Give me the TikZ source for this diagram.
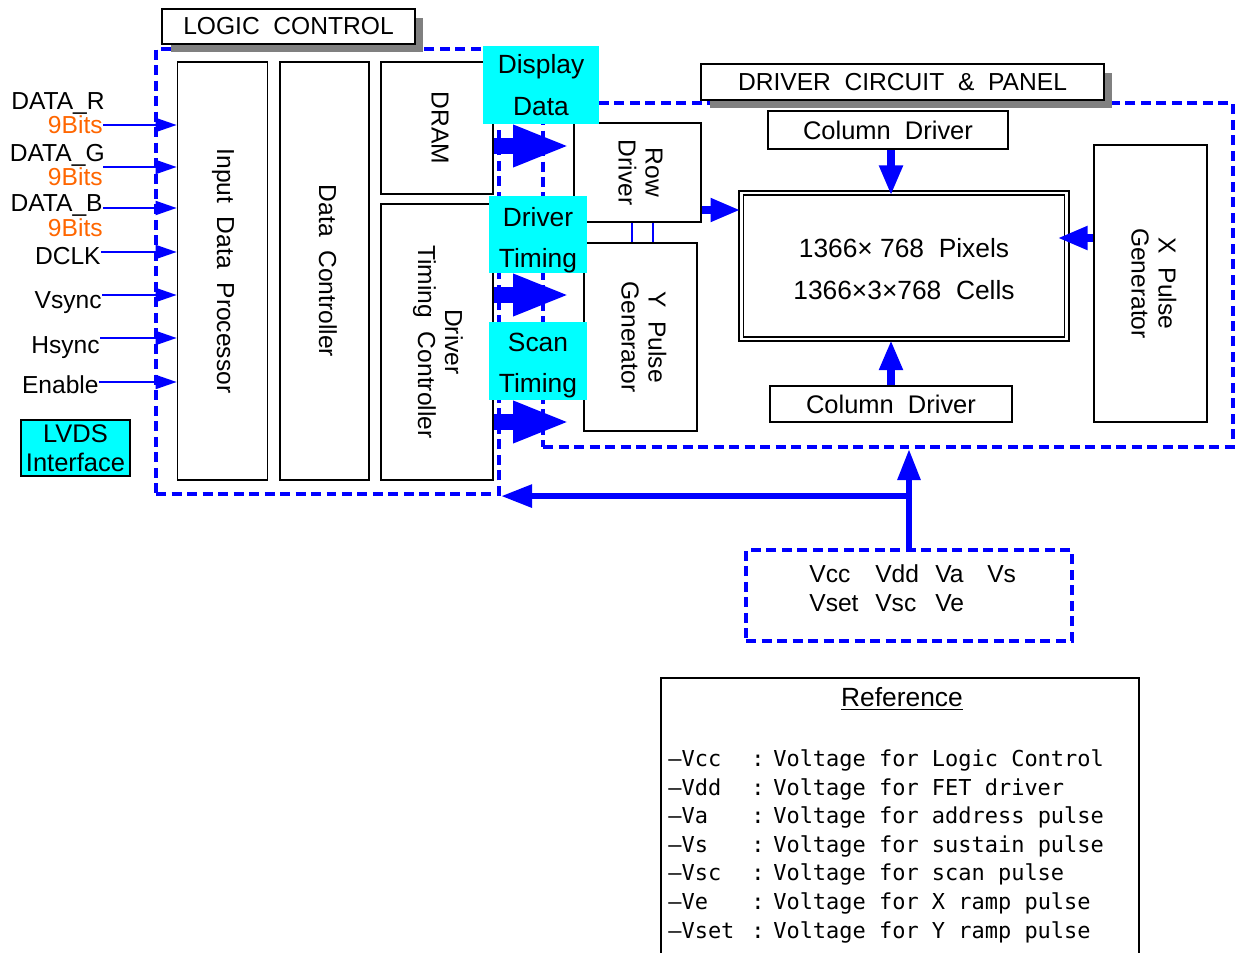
\documentclass[tikz,border=0pt]{standalone}
\usepackage{fontspec}
\setmainfont{Liberation Sans}
\newfontfamily\refmono{DejaVu Sans Mono}
\usetikzlibrary{arrows.meta,shadows}
\definecolor{cyanbox}{RGB}{0,255,255}
\definecolor{bitorange}{RGB}{255,102,0}
\definecolor{shadowgray}{RGB}{128,128,128}
\newcommand{\setfs}[2]{\fontsize{#1}{#2}\selectfont}
\newcommand{\vtxt}[1]{\rotatebox{-90}{\begin{tabular}{@{}c@{}}#1\end{tabular}}}
\newcommand{\lowtxt}[2]{\raisebox{-#1}[0pt][0pt]{\begin{tabular}{@{}c@{}}#2\end{tabular}}}

\begin{document}
\begin{tikzpicture}[x=0.02cm, y=-0.02cm,
  box/.style={draw, line width=1pt, fill=white, inner sep=0pt, font=\setfs{14}{15.3}},
  dashbox/.style={draw=blue, line width=0.085cm, dash pattern=on 0.2cm off 0.11cm, inner sep=0pt},
  cyanlbl/.style={fill=cyanbox, inner sep=0pt, align=center, font=\setfs{15}{23.8}},
  titlebox/.style={draw, line width=1pt, fill=white, inner sep=0pt, font=\setfs{14}{16},
    drop shadow={shadow xshift=0.17cm, shadow yshift=-0.17cm, fill=shadowgray, opacity=1}},
  sig/.style={anchor=east, inner sep=0pt, text height=0.75em, text depth=0.25em, font=\setfs{14}{16}},
  sigarrow/.style={blue, line width=1.1pt, -{Triangle[length=0.42cm, width=0.28cm]}},
  bigarrow/.style={blue, line width=0.33cm, -{Triangle[length=1.14cm, width=0.76cm]}},
  midarrow/.style={blue, line width=0.16cm, -{Triangle[length=0.6cm, width=0.44cm]}},
  busarrow/.style={blue, line width=0.12cm, -{Triangle[length=0.62cm, width=0.44cm]}}
]
\useasboundingbox (0,0) rectangle (1235,953);

% Dashed regions
\node[dashbox, minimum width=6.86cm, minimum height=8.9cm] (logic) at (327.5,271.5) {};
\node[dashbox, minimum width=13.8cm, minimum height=6.88cm] (panelbox) at (888,275) {};
\node[dashbox, minimum width=6.52cm, minimum height=1.82cm] (volt) at (909,595.5) {};

% Titles
\node[titlebox, minimum width=5.06cm, minimum height=0.7cm] (lctitle) at (288.5,26.5) {LOGIC\ \ CONTROL};
\node[titlebox, minimum width=8.06cm, minimum height=0.72cm] (dctitle) at (902.5,82) {DRIVER\ \ CIRCUIT\ \ \&\ \ PANEL};

% Logic control blocks
\node[box, minimum width=1.8cm, minimum height=8.36cm] (idp) at (222.5,271) {\vtxt{Input\ \ Data\ \ Processor}};
\node[box, minimum width=1.78cm, minimum height=8.36cm] (dc) at (324.5,271) {\vtxt{Data\ \ Controller}};
\node[box, minimum width=2.24cm, minimum height=2.64cm] (dram) at (437,128) {\vtxt{DRAM}};
\node[box, minimum width=2.24cm, minimum height=5.52cm] (dtc) at (437,342) {\vtxt{Driver\\Timing\ \ Controller}};
\node[box, fill=cyanbox, minimum width=2.18cm, minimum height=1.12cm, align=center, font=\setfs{14.5}{16.4}] (lvds) at (75.5,448) {LVDS\\Interface};

% Driver circuit blocks
\node[box, minimum width=2.54cm, minimum height=1.98cm] (rowdrv) at (637.5,172.5) {\vtxt{Row\\Driver}};
\node[box, minimum width=2.26cm, minimum height=3.76cm] (ypulse) at (640.5,337) {\vtxt{Y\ \ Pulse\\Generator}};
\node[box, line width=0.9pt, double, double distance=1.4pt, minimum width=6.51cm, minimum height=2.93cm,
  font=\setfs{15}{23.8}] (panel) at (904,266) {\lowtxt{0.21cm}{1366×\ 768\ \ Pixels\\1366×3×768\ \ Cells}};
\node[box, minimum width=4.8cm, minimum height=0.76cm, font=\setfs{14.5}{16}] (coltop) at (888,130) {Column\ \ Driver};
\node[box, minimum width=4.84cm, minimum height=0.72cm, font=\setfs{14.5}{16}] (colbot) at (891,404) {Column\ \ Driver};
\node[box, minimum width=2.26cm, minimum height=5.54cm] (xpulse) at (1150.5,283.5) {\vtxt{X\ \ Pulse\\Generator}};

% Input signals
\node[sig] (lblR) at (105,105) {DATA\_R};
\node[sig, text=bitorange] (bitsR) at (103,129) {9Bits};
\node[sig] (lblG) at (105,157) {DATA\_G};
\node[sig, text=bitorange] (bitsG) at (103,181) {9Bits};
\node[sig] (lblB) at (103,207) {DATA\_B};
\node[sig, text=bitorange] (bitsB) at (103,232) {9Bits};
\node[sig] (dclk) at (101,260) {DCLK};
\node[sig] (vsync) at (102,304) {Vsync};
\node[sig] (hsync) at (100,349) {Hsync};
\node[sig] (enable) at (99,389) {Enable};
\coordinate (inR) at (103,125);
\coordinate (inG) at (103,167);
\coordinate (inB) at (103,208);
\draw[sigarrow] (inR) -- (inR -| idp.west);
\draw[sigarrow] (inG) -- (inG -| idp.west);
\draw[sigarrow] (inB) -- (inB -| idp.west);
\draw[sigarrow] (dclk.east |- 0,252) -- (idp.west |- 0,252);
\draw[sigarrow] (vsync.east |- 0,295) -- (idp.west |- 0,295);
\draw[sigarrow] (hsync.east |- 0,338) -- (idp.west |- 0,338);
\draw[sigarrow] (enable.east |- 0,382) -- (idp.west |- 0,382);

% Logic to driver
\draw[bigarrow, shorten >=0.06cm] (dram.east |- 0,146) -- (rowdrv.west |- 0,146);
\draw[bigarrow, shorten >=0.26cm] (dtc.east |- 0,295) -- (ypulse.west |- 0,295);
\draw[bigarrow, shorten >=0.26cm] (dtc.east |- 0,422) -- (ypulse.west |- 0,422);
\draw[blue, line width=0.9pt] (rowdrv.south -| 632,0) -- (ypulse.north -| 632,0);
\draw[blue, line width=0.9pt] (rowdrv.south -| 653,0) -- (ypulse.north -| 653,0);

% Panel arrows
\draw[midarrow, shorten >=-2pt] (coltop.south -| 891,0) -- (panel.north -| 891,0);
\draw[midarrow] (colbot.north -| 891,0) -- (panel.south -| 891,0);
\draw[midarrow] (rowdrv.east |- 0,210) -- (panel.west |- 0,210);
\draw[midarrow, shorten >=-0.2cm] (xpulse.west |- 0,238) -- (panel.east |- 0,238);

% Cyan labels
\node[cyanlbl, minimum width=2.32cm, minimum height=1.56cm] (ddata) at (541,85) {Display\\Data};
\node[cyanlbl, minimum width=1.96cm, minimum height=1.54cm] (dtiming) at (538,234.5) {\lowtxt{0.21cm}{Driver\\Timing}};
\node[cyanlbl, minimum width=1.96cm, minimum height=1.56cm] (stiming) at (538,361) {\lowtxt{0.18cm}{Scan\\Timing}};

% Power bus
\node[anchor=west, inner sep=0pt, font=\setfs{14}{17}] (volttxt) at (809,591)
  {\begin{tabular}{@{}p{1.32cm}@{}p{1.2cm}@{}p{1.04cm}@{}l@{}}Vcc & Vdd & Va & Vs\\Vset & Vsc & Ve & \end{tabular}};
\draw[busarrow] (volt.north) -- (volt.north |- panelbox.south);
\draw[busarrow] ([xshift=0.06cm]volt.north |- logic.south) -- (logic.south east);

% Reference
\draw[line width=1pt] (661,953) -- (661,678) -- (1139,678) -- (1139,953);
\node[font=\setfs{15}{18}] (reftitle) at (902,699) {\underline{Reference}};
\node[anchor=north west, inner sep=0pt, font=\refmono\setfs{12.5}{16.3}] (reflist) at (668,746)
  {\begin{tabular}{@{}p{1.66cm}@{}p{0.44cm}@{}l@{}}
  –Vcc & : & Voltage for Logic Control\\
  –Vdd & : & Voltage for FET driver\\
  –Va & : & Voltage for address pulse\\
  –Vs & : & Voltage for sustain pulse\\
  –Vsc & : & Voltage for scan pulse\\
  –Ve & : & Voltage for X ramp pulse\\
  –Vset & : & Voltage for Y ramp pulse
  \end{tabular}};

\end{tikzpicture}
\end{document}
